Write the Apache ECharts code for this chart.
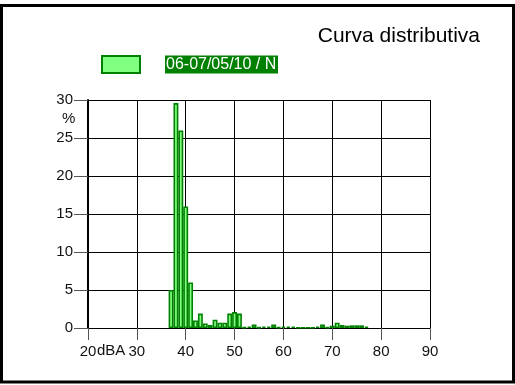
<!DOCTYPE html>
<html>
<head>
<meta charset="utf-8">
<script src="https://cdn.jsdelivr.net/npm/echarts@6/dist/echarts.min.js"></script>
<style>html,body{margin:0;padding:0;background:#fff}#c{width:515px;height:385px}</style>
</head>
<body>
<div id="c"></div>
<script>
var seriesName = '06-07/05/10 / N';
var levels = [37,38,39,40,41,42,43,44,45,46,47,48,49,50,51,52,53,54,55,56,57,58,59,60,61,62,63,64,65,66,67,68,69,70,71,72,73,74,75,76,77];
var percents = [5,29.6,26,16,6,1,1.9,0.6,0.4,1.1,0.7,0.7,1.9,2.1,1.9,0.1,0.2,0.45,0.1,0.2,0.2,0.45,0.1,0.2,0.2,0.2,0.05,0.05,0.05,0.05,0.2,0.45,0.1,0.3,0.7,0.4,0.3,0.35,0.35,0.35,0.2];
var xTicks = [20,30,40,50,60,70,80,90];
var yTicks = [0,5,10,15,20,25,30];

var chart = echarts.init(document.getElementById('c'));
var gridL = 88, gridR = 85, gridT = 100, gridB = 57;
var plotW = 515 - gridL - gridR;
var xMin = xTicks[0], xMax = xTicks[xTicks.length-1];
var binW = plotW / (xMax - xMin);
var data = levels.map(function(v,i){return [v, percents[i]];});
var font = 'Liberation Sans, Arial, sans-serif';

chart.setOption({
  backgroundColor: '#fff',
  animation: false,
  title: {
    text: 'Curva distributiva', right: 30, top: 21,
    textStyle: {fontFamily: font, fontSize: 21, fontWeight: 'normal', color: '#000'}
  },
  legend: {
    left: 101, top: 55, padding: 0,
    itemWidth: 38, itemHeight: 17,
    icon: 'rect',
    data: [{name: seriesName, itemStyle: {color: '#80ff80', borderColor: '#008000', borderWidth: 2}}],
    formatter: function(n){ return '{g|}{t|' + n + '}'; },
    textStyle: {
      fontFamily: font, fontSize: 16,
      rich: {
        g: {width: 20},
        t: {color: '#fff', backgroundColor: '#008000', fontFamily: font, fontSize: 16, padding: [1, 0, 1, 1], width: 112, overflow: 'truncate', ellipsis: ''}
      }
    }
  },
  grid: {left: gridL, right: gridR, top: gridT, bottom: gridB},
  xAxis: {
    type: 'value', min: xMin, max: xMax, interval: 10,
    axisLine: {show: true, onZero: false, lineStyle: {color: '#000', width: 1}},
    axisTick: {show: true, length: 12, lineStyle: {color: '#555'}},
    axisLabel: {color: '#111', fontFamily: font, fontSize: 15, margin: 16},
    splitLine: {show: true, lineStyle: {color: '#000', width: 1}}
  },
  yAxis: {
    type: 'value', min: 0, max: 30, interval: 5,
    axisLine: {show: true, lineStyle: {color: '#000', width: 2}},
    axisTick: {show: true, length: 14, lineStyle: {color: '#555'}},
    axisLabel: {color: '#111', fontFamily: font, fontSize: 15, margin: 15},
    splitLine: {show: true, lineStyle: {color: '#000', width: 1}}
  },
  series: [{
    name: seriesName, type: 'bar', data: data,
    barWidth: binW,
    itemStyle: {color: '#80ff80', borderColor: '#008000', borderWidth: 1.6}
  }],
  graphic: [
    {type: 'rect', z: 100, shape: {x: 1.5, y: 5.5, width: 512, height: 376.5}, style: {fill: 'none', stroke: '#000', lineWidth: 3}},
    {type: 'text', left: 62, top: 111, style: {text: '%', font: '15px Liberation Sans, Arial, sans-serif', fill: '#111'}},
    {type: 'text', left: 97, top: 343, style: {text: 'dBA', font: '15px Liberation Sans, Arial, sans-serif', fill: '#111'}}
  ]
});
</script>
</body>
</html>
